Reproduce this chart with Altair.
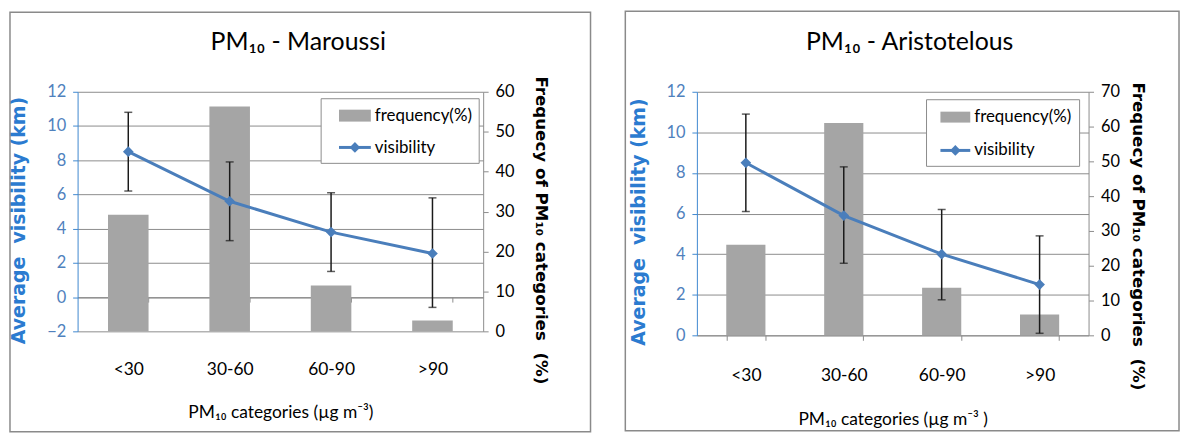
import altair as alt
import pandas as pd

# ---------------- data ----------------
categories = ["<30", "30-60", "60-90", ">90"]

maroussi_freq = [29.2, 56.3, 11.5, 2.7]
maroussi_vis = [8.5, 5.6, 3.8, 2.55]
maroussi_low = [6.2, 3.3, 1.5, -0.6]
maroussi_high = [10.8, 7.9, 6.1, 5.8]

aristotelous_freq = [26.0, 61.0, 13.7, 6.0]
aristotelous_vis = [8.5, 5.9, 4.0, 2.5]
aristotelous_low = [6.1, 3.55, 1.75, 0.1]
aristotelous_high = [10.9, 8.3, 6.2, 4.9]

maroussi_vis_ticks = [-2, 0, 2, 4, 6, 8, 10, 12]
maroussi_freq_ticks = [0, 10, 20, 30, 40, 50, 60]
aristotelous_vis_ticks = [0, 2, 4, 6, 8, 10, 12]
aristotelous_freq_ticks = [0, 10, 20, 30, 40, 50, 60, 70]

panel_titles = ["PM\u2081\u2080 - Maroussi", "PM\u2081\u2080 - Aristotelous"]
x_titles = ["PM\u2081\u2080 categories (\u00b5g m\u207b\u00b3)", "PM\u2081\u2080 categories (\u00b5g m\u207b\u00b3 )"]
y_title = "Average\u00a0 visibility (km)"
y2_title = "Frequecy of PM\u2081\u2080 categories\u00a0 (%)"
legend_labels = ["frequency(%)", "visibility"]

# ---------------- style ----------------
FONT = "Lato, 'DejaVu Sans', sans-serif"
BOLD_FONT = "'DejaVu Sans', sans-serif"
BAR = "#A5A5A5"
LINE = "#4A7EBB"
ERR = "#1A1A1A"
GRID = "#8C8C8C"
AXIS_GRAY = "#8C8C8C"
BORDER = "#8A8A8A"
AXIS_BLUE = "#3F88D0"
LABEL_BLUE = "#4F81BD"
TITLE_BLUE = "#2B7BD0"


def panel(idx, freq, vis, low, high, vis_dom, vis_ticks, freq_dom, freq_ticks, W, H, g):
    df = pd.DataFrame({"cat": categories, "freq": freq, "vis": vis, "low": low, "high": high})
    xscale = alt.Scale(domain=categories, paddingInner=0.6, paddingOuter=0.3)
    vscale = alt.Scale(domain=vis_dom, nice=False, zero=False)
    fscale = alt.Scale(domain=freq_dom, nice=False, zero=False)
    base = alt.Chart(df)

    x_axis = alt.Axis(
        title=x_titles[idx], orient="bottom", offset=g["xoff"],
        domainColor=AXIS_GRAY, domainWidth=1, tickColor=AXIS_GRAY, tickSize=5,
        tickBand="extent", labelAngle=0, labelFont=FONT, labelFontSize=17.5,
        labelColor="black", labelPadding=g["xlp"], titleFont=FONT, titleFontSize=17.5,
        titleFontWeight="normal", titleColor="black", titlePadding=g["xtp"],
    )
    f_axis = alt.Axis(
        orient="right", values=freq_ticks, grid=False, title=y2_title,
        domainColor=AXIS_GRAY, tickColor=AXIS_GRAY, tickSize=5,
        labelFont=FONT, labelFontSize=16.5, labelColor="black", labelPadding=7,
        titleFont=BOLD_FONT, titleFontSize=16.8, titleFontWeight="bold",
        titleColor="black", titlePadding=g["y2tp"], titleAngle=90, titleY=g["y2ty"],
    )
    v_axis = alt.Axis(
        orient="left", values=vis_ticks, grid=True, gridColor=GRID, gridWidth=1,
        title=y_title, domainColor=AXIS_BLUE, tickColor=AXIS_BLUE, tickSize=5,
        labelFont=FONT, labelFontSize=16.5, labelColor=LABEL_BLUE, labelPadding=7,
        titleFont=BOLD_FONT, titleFontSize=19, titleFontWeight="bold",
        titleColor=TITLE_BLUE, titlePadding=g["ytp"], titleY=g["yty"],
    )

    xe = alt.X("cat:N", sort=categories, scale=xscale, axis=x_axis)
    bars = base.mark_bar(color=BAR).encode(
        x=xe,
        y=alt.Y("freq:Q", scale=fscale, axis=f_axis),
    )
    err = base.mark_rule(color=ERR, strokeWidth=1.5).encode(
        x=xe, y=alt.Y("low:Q", scale=vscale, axis=v_axis), y2="high:Q"
    )
    cap_lo = base.mark_tick(color=ERR, size=8, thickness=1.5).encode(
        x=xe, y=alt.Y("low:Q", scale=vscale, axis=v_axis)
    )
    cap_hi = base.mark_tick(color=ERR, size=8, thickness=1.5).encode(
        x=xe, y=alt.Y("high:Q", scale=vscale, axis=v_axis)
    )
    line = base.mark_line(
        color=LINE, strokeWidth=3,
        point=alt.OverlayMarkDef(shape="diamond", size=115, filled=True, color=LINE, opacity=1),
    ).encode(x=xe, y=alt.Y("vis:Q", scale=vscale, axis=v_axis))
    inner = alt.layer(err, cap_lo, cap_hi, line)

    one = pd.DataFrame({"title": [panel_titles[idx]], "l1": [legend_labels[0]], "l2": [legend_labels[1]]})
    lb = alt.Chart(one)
    border = lb.mark_rect(fill="transparent", stroke=BORDER, strokeWidth=1.5).encode(
        x=alt.value(g["b"][0]), x2=alt.value(g["b"][1]), y=alt.value(g["b"][2]), y2=alt.value(g["b"][3])
    )
    title = lb.mark_text(font=FONT, fontSize=25, color="black", align="center", baseline="middle").encode(
        x=alt.value(g["t"][0]), y=alt.value(g["t"][1]), text="title:N"
    )
    L = g["leg"]
    box = lb.mark_rect(fill="white", stroke=GRID, strokeWidth=1).encode(
        x=alt.value(L["box"][0]), x2=alt.value(L["box"][1]), y=alt.value(L["box"][2]), y2=alt.value(L["box"][3])
    )
    swatch = lb.mark_rect(fill=BAR).encode(
        x=alt.value(L["sw"][0]), x2=alt.value(L["sw"][1]), y=alt.value(L["sw"][2]), y2=alt.value(L["sw"][3])
    )
    t1 = lb.mark_text(font=FONT, fontSize=17, color="black", align="left", baseline="middle").encode(
        x=alt.value(L["tx"]), y=alt.value(L["ty1"]), text="l1:N"
    )
    lrule = lb.mark_rule(color=LINE, strokeWidth=3).encode(
        x=alt.value(L["sw"][0]), x2=alt.value(L["sw"][1]), y=alt.value(L["ly"])
    )
    lpt = lb.mark_point(shape="diamond", size=115, filled=True, color=LINE, opacity=1).encode(
        x=alt.value((L["sw"][0] + L["sw"][1]) / 2), y=alt.value(L["ly"])
    )
    t2 = lb.mark_text(font=FONT, fontSize=17, color="black", align="left", baseline="middle").encode(
        x=alt.value(L["tx"]), y=alt.value(L["ty2"]), text="l2:N"
    )

    return (
        alt.layer(border, bars, inner, box, swatch, t1, lrule, lpt, t2, title)
        .resolve_scale(y="independent")
        .properties(width=W, height=H)
    )


left_geo = {
    "xoff": -241 * 2 / 14, "xlp": 59, "xtp": 26, "ytp": 18.5, "y2tp": 18,
    "yty": 129, "y2ty": 139,
    "b": [-68, 516, -80, 342],
    "t": [222, -50],
    "leg": {"box": [245, 404, 7, 72], "sw": [263, 295, 18, 30], "tx": 299, "ty1": 24, "ly": 56, "ty2": 57},
}
right_geo = {
    "xoff": 0, "xlp": 26, "xtp": 27, "ytp": 17.5, "y2tp": 9,
    "yty": 130.5, "y2ty": 145,
    "b": [-72, 485, -81, 341],
    "t": [214, -50],
    "leg": {"box": [231, 385, 8, 75], "sw": [245, 275, 20, 31], "tx": 279, "ty1": 25.5, "ly": 59, "ty2": 59},
}

left = panel(0, maroussi_freq, maroussi_vis, maroussi_low, maroussi_high,
             [-2, 12], maroussi_vis_ticks, [0, 60], maroussi_freq_ticks, 408, 241, left_geo)
right = panel(1, aristotelous_freq, aristotelous_vis, aristotelous_low, aristotelous_high,
              [0, 12], aristotelous_vis_ticks, [0, 70], aristotelous_freq_ticks, 394, 245, right_geo)

chart = (
    alt.hconcat(left, right, spacing=31)
    .properties(padding=0, background="white")
    .configure_view(stroke="transparent")
)

chart.save("out.html", embed_options={"renderer": "svg", "actions": False})
